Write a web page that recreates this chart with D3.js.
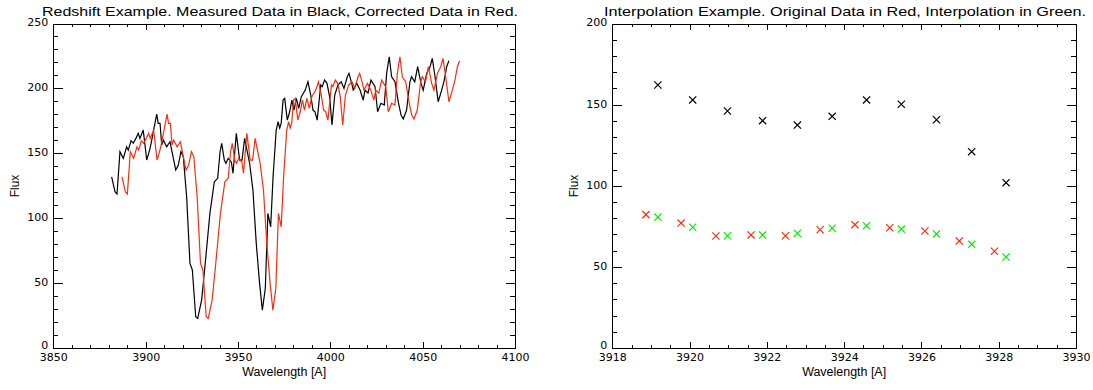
<!DOCTYPE html>
<html>
<head>
<meta charset="utf-8">
<script src="https://cdn.jsdelivr.net/npm/d3@7"></script>
<style>
body{margin:0;background:#fff;}
text{font-family:"DejaVu Sans",sans-serif;fill:#000;}
.title,.alabel{font-family:"Liberation Sans",Arial,sans-serif;}
</style>
</head>
<body>
<script>
var w=1093;
var h=390;

// left panel: measured spectrum (black) and redshift-corrected spectrum (red)
var measuredWave=[3881.6,3883.4,3884.5,3886.1,3887.9,3889.7,3890.6,3892.1,3893.3,3894.8,3896.0,3896.9,3898.7,3900.6,3902.4,3903.3,3906.0,3906.8,3907.8,3908.7,3909.6,3911.4,3913.2,3914.1,3916.3,3917.7,3919.1,3920.4,3922.2,3924.0,3925.3,3927.1,3928.2,3930.3,3932.1,3934.8,3937.2,3939.0,3940.3,3941.2,3942.6,3943.5,3944.7,3946.4,3947.3,3949.1,3950.9,3952.2,3953.6,3954.5,3956.3,3958.1,3959.9,3961.7,3963.2,3964.8,3966.2,3967.7,3969.0,3970.7,3971.7,3972.6,3973.4,3974.4,3975.3,3976.7,3978.0,3979.2,3980.3,3981.6,3982.9,3984.3,3986.4,3987.9,3989.4,3990.6,3991.7,3992.9,3994.8,3995.6,3996.9,3998.2,3999.6,4000.9,4002.4,4004.1,4005.9,4007.4,4009.2,4010.1,4011.6,4012.4,4014.3,4016.1,4017.8,4018.8,4020.4,4022.0,4024.2,4025.6,4027.4,4029.2,4030.5,4031.9,4033.2,4035.0,4036.8,4038.3,4039.5,4041.3,4043.1,4044.0,4045.7,4047.3,4049.1,4050.3,4052.2,4054.0,4055.2,4056.7,4058.4,4060.3,4061.7,4063.0,4064.2];
var measuredFlux=[131.9,120.4,118.6,151.2,146.1,155.0,152.5,159.7,157.7,161.7,165.4,161.5,167.9,144.8,153.8,160.2,180.2,173.1,173.1,156.4,160.2,155.0,158.9,152.5,137.1,140.9,151.2,147.3,116.5,65.2,60.1,24.1,22.8,36.9,62.6,103.7,128.1,130.7,151.2,157.7,144.8,142.3,146.1,143.3,134.6,165.4,144.8,144.8,161.5,155.0,142.3,121.7,80.6,49.8,29.2,46.0,103.7,93.4,131.9,167.9,174.3,169.5,173.1,191.0,192.3,175.6,182.0,191.0,183.3,192.3,184.6,193.6,198.7,205.1,194.9,183.3,182.0,175.6,202.6,201.3,206.4,203.9,193.6,171.8,194.9,202.6,205.1,200.0,209.0,211.6,203.9,198.7,203.9,198.7,191.0,198.7,196.4,206.4,201.3,182.0,188.5,187.2,211.6,224.4,209.0,205.1,189.7,179.5,176.4,183.3,205.1,209.0,205.1,216.7,203.9,198.7,211.6,216.7,223.2,209.0,189.7,198.7,206.4,216.7,221.3];
var correctedWave=[3887.2,3889.0,3890.1,3891.7,3893.5,3895.3,3896.2,3897.7,3898.9,3900.4,3901.6,3902.5,3904.3,3906.2,3908.0,3908.9,3911.6,3912.4,3913.4,3914.3,3915.2,3917.0,3918.8,3919.7,3921.9,3923.3,3924.8,3926.1,3927.9,3929.7,3931.0,3932.8,3933.9,3936.0,3937.8,3940.5,3942.9,3944.7,3946.0,3946.9,3948.3,3949.2,3950.4,3952.1,3953.0,3954.8,3956.6,3957.9,3959.3,3960.2,3962.0,3963.8,3965.6,3967.4,3968.9,3970.5,3971.9,3973.4,3974.7,3976.4,3977.4,3978.3,3979.1,3980.1,3981.0,3982.4,3983.7,3984.9,3986.0,3987.3,3988.6,3990.0,3992.1,3993.6,3995.1,3996.4,3997.5,3998.7,4000.6,4001.4,4002.7,4004.0,4005.4,4006.7,4008.2,4009.9,4011.7,4013.2,4015.0,4015.9,4017.4,4018.2,4020.1,4021.9,4023.6,4024.6,4026.2,4027.8,4030.0,4031.4,4033.2,4035.0,4036.3,4037.7,4039.0,4040.8,4042.6,4044.1,4045.3,4047.1,4048.9,4049.8,4051.5,4053.1,4054.9,4056.1,4058.0,4059.8,4061.0,4062.5,4064.2,4066.1,4067.5,4068.8,4070.0];
var correctedFlux=measuredFlux; // same values, only the wavelengths move

// right panel
var origWave=[3918.87,3919.78,3920.68,3921.59,3922.48,3923.38,3924.28,3925.18,3926.09,3926.98,3927.89];
var origFlux=[82.2,77.0,69.0,69.7,69.2,72.9,76.0,74.1,72.1,65.9,59.6];
var interpWave=[3919.18,3920.08,3920.98,3921.89,3922.79,3923.69,3924.58,3925.48,3926.39,3927.30,3928.19];
var interpFlux=[80.7,74.4,69.2,69.6,70.7,73.8,75.4,73.3,70.3,63.9,56.1];
var blackFlux=[162.1,152.9,146.1,140.1,137.4,142.8,152.9,150.2,140.7,121.0,101.9];

var leftXTicks=[3850,3900,3950,4000,4050,4100];
var leftYTicks=[0,50,100,150,200,250];
var rightXTicks=[3918,3920,3922,3924,3926,3928,3930];
var rightYTicks=[0,50,100,150,200];

var red="#ff2a0a";
var green="#00ee00";

var svg=d3.select("body").append("svg")
	.attr("width",w)
	.attr("height",h);

var top_=23.5, bottom_=348;

function makePanel(o){
	var g=svg.append("g");
	var x=d3.scaleLinear().domain([o.xTicks[0],o.xTicks[o.xTicks.length-1]]).range([o.left,o.right]);
	var y=d3.scaleLinear().domain([o.yTicks[0],o.yTicks[o.yTicks.length-1]]).range([bottom_,top_]);
	var xt=0.02*(bottom_-top_);   // IDL style tick lengths
	var yt=0.02*(o.right-o.left);
	var xMinor=d3.range(x.domain()[0],x.domain()[1]+1e-9,o.xMinor).filter(function(v){return o.xTicks.indexOf(+v.toFixed(3))<0;});
	var yMinor=d3.range(y.domain()[0],y.domain()[1]+1e-9,o.yMinor).filter(function(v){return o.yTicks.indexOf(+v.toFixed(3))<0;});

	function ax(gen,sel,vals,len,labels){
		var a=gen.tickValues(vals).tickSizeInner(-len).tickSizeOuter(0);
		if(labels) a.tickPadding(labels).tickFormat(d3.format("d")); else a.tickFormat("");
		var gg=g.append("g").attr("class","axis").attr("transform",sel).call(a);
		gg.selectAll("line,path").attr("stroke","#000").attr("stroke-width",1).attr("shape-rendering","crispEdges");
		gg.selectAll("text").attr("font-size",11).attr("font-family","DejaVu Sans");
		return gg;
	}
	ax(d3.axisBottom(x),"translate(0,"+bottom_+")",o.xTicks,xt,5.5);
	ax(d3.axisBottom(x),"translate(0,"+bottom_+")",xMinor,xt/2,0);
	ax(d3.axisTop(x),"translate(0,"+top_+")",o.xTicks,xt,0);
	ax(d3.axisTop(x),"translate(0,"+top_+")",xMinor,xt/2,0);
	var yl=ax(d3.axisLeft(y),"translate("+o.left+",0)",o.yTicks,yt,5);
	yl.selectAll("text").attr("dy",function(d){return d===0?"0em":"0.22em";});
	ax(d3.axisLeft(y),"translate("+o.left+",0)",yMinor,yt/2,0);
	ax(d3.axisRight(y),"translate("+o.right+",0)",o.yTicks,yt,0);
	ax(d3.axisRight(y),"translate("+o.right+",0)",yMinor,yt/2,0);

	g.append("text").attr("class","title")
		.attr("x",o.titleX).attr("y",16)
		.attr("text-anchor","middle").attr("font-size",13.5)
		.attr("textLength",o.titleLen).attr("lengthAdjust","spacingAndGlyphs")
		.text(o.title);
	g.append("text").attr("class","alabel")
		.attr("x",(o.left+o.right)/2).attr("y",375.5)
		.attr("text-anchor","middle").attr("font-size",12)
		.attr("textLength",84).attr("lengthAdjust","spacingAndGlyphs")
		.text("Wavelength [A]");
	g.append("text").attr("class","alabel")
		.attr("transform","translate("+(o.left-34)+",186) rotate(-90)")
		.attr("text-anchor","middle").attr("font-size",12)
		.text("Flux");
	return {g:g,x:x,y:y};
}

// left panel
var L=makePanel({left:53.3,right:515,xTicks:leftXTicks,yTicks:leftYTicks,xMinor:10,yMinor:10,
	title:"Redshift Example. Measured Data in Black, Corrected Data in Red.",titleX:280,titleLen:476});

var lineL=d3.line().x(function(d){return L.x(d[0]);}).y(function(d){return L.y(d[1]);});
L.g.append("path").datum(d3.zip(measuredWave,measuredFlux))
	.attr("d",lineL).attr("fill","none").attr("stroke","#000").attr("stroke-width",1.2);
L.g.append("path").datum(d3.zip(correctedWave,correctedFlux))
	.attr("d",lineL).attr("fill","none").attr("stroke",red).attr("stroke-width",1.2);

// right panel
var R=makePanel({left:612.3,right:1076,xTicks:rightXTicks,yTicks:rightYTicks,xMinor:0.5,yMinor:10,
	title:"Interpolation Example. Original Data in Red, Interpolation in Green.",titleX:845,titleLen:482});

function crosses(wave,flux,col){
	var s=3.6;
	R.g.append("g").selectAll("path")
		.data(d3.zip(wave,flux))
		.enter().append("path")
		.attr("d",function(d){
			var cx=R.x(d[0]),cy=R.y(d[1]);
			return "M"+(cx-s)+","+(cy-s)+"L"+(cx+s)+","+(cy+s)+"M"+(cx-s)+","+(cy+s)+"L"+(cx+s)+","+(cy-s);
		})
		.attr("stroke",col).attr("stroke-width",1.2).attr("fill","none");
}
crosses(interpWave,blackFlux,"#000");
crosses(origWave,origFlux,red);
crosses(interpWave,interpFlux,green);
</script>
</body>
</html>
